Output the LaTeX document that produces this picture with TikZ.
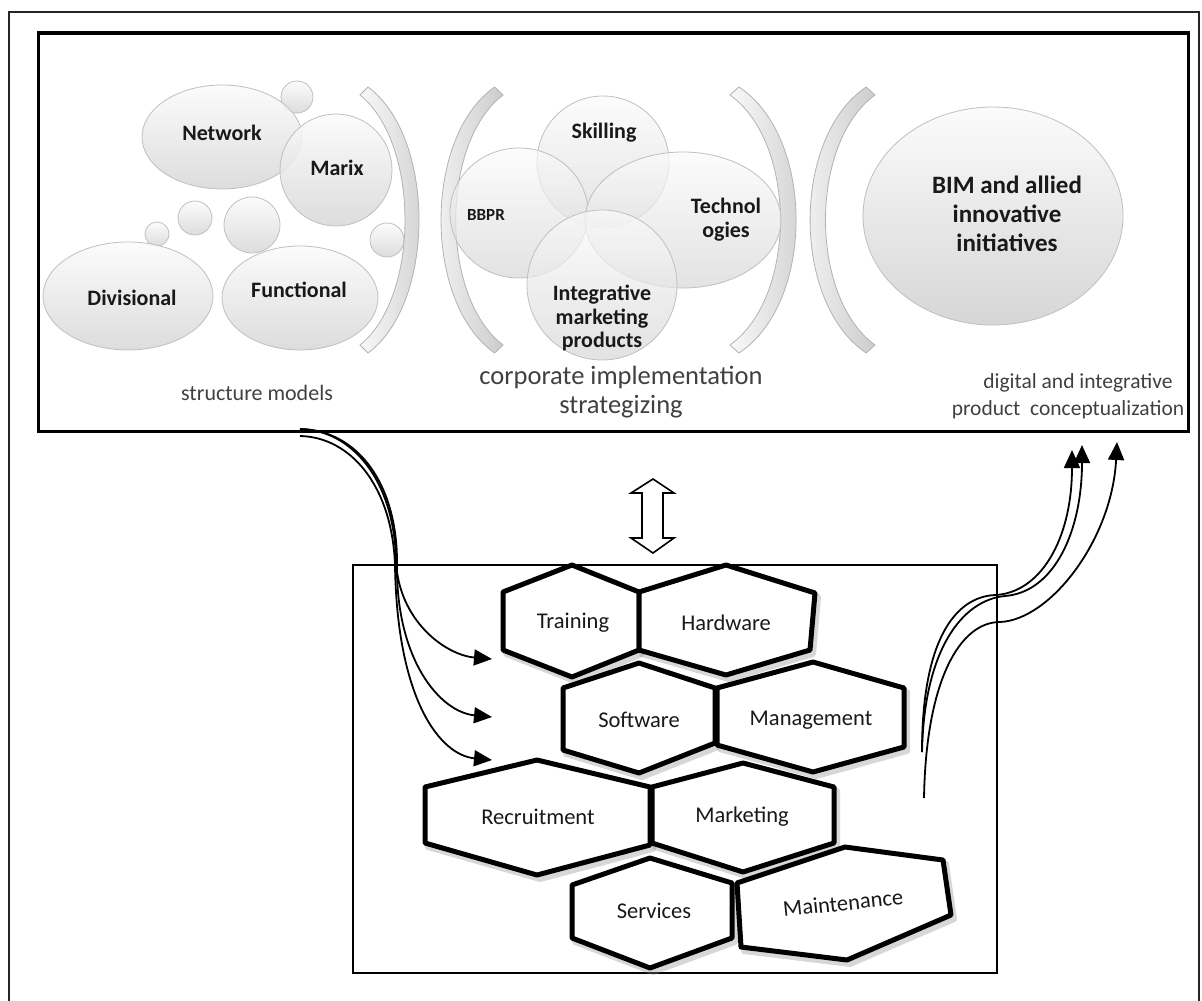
\documentclass[tikz,border=0pt]{standalone}
\usepackage{fontspec}
\setmainfont{Carlito}
\usetikzlibrary{arrows.meta}
\tikzset{
  bubble/.style={draw=gray!50, line width=0.8pt, top color=gray!3, middle color=gray!20, bottom color=gray!32, fill opacity=0.85},
  tbub/.style={bubble, fill opacity=0.7},
  blabel/.style={font=\fontsize{22}{24}\selectfont\bfseries, align=center, text=black!90},
  caption/.style={font=\fontsize{22}{27}\selectfont, text=black!75, align=center},
  brk/.style={draw=gray!60, line width=0.8pt, left color=gray!5, right color=gray!40},
  hexa/.style={draw=black, line width=5pt, line join=round, fill=white},
  hexshadow/.style={draw=black!45, line width=6pt, line join=round, opacity=0.35},
  hlabel/.style={font=\fontsize{22.5}{24}\selectfont, text=black!90},
  conn/.style={line width=1.8pt, -{Triangle[length=18pt,width=16pt]}},
  brack/.pic={\path[brk] (8,0) .. controls (76,50) and (76,216) .. (8,266) -- (0,258) .. controls (60,210) and (60,56) .. (0,8) -- cycle;}
}
\newcommand{\hexpoly}[1]{\draw[hexshadow, shift={(3,4)}] #1; \draw[hexa] #1;}
\begin{document}
\begin{tikzpicture}[x=1pt,y=-1pt]
\useasboundingbox (0,0) rectangle (1202,1001);
% outer frame
\draw[line width=2.2pt, draw=black!85] (9,1003) -- (9,12) -- (1199,12) -- (1199,1003);
% top box
\draw[line width=3.2pt] (38.5,33) rectangle (1188.5,431.5);
% lower box
\draw[line width=2pt] (353,565) rectangle (997,973);

% ---------- structure models ----------
\path[bubble] (297,97) circle [radius=16];
\path[bubble] (222,137) ellipse [x radius=80, y radius=52];
\path[bubble] (336,170) circle [radius=56];
\path[bubble] (157,234) circle [radius=12];
\path[bubble] (195,218) circle [radius=17];
\path[bubble] (252,225) circle [radius=28];
\path[bubble] (387,240) circle [radius=17];
\path[bubble] (128,296) ellipse [x radius=85, y radius=54];
\path[bubble] (300,298) ellipse [x radius=78, y radius=52];
\node[blabel] (network) at (222,133) {Network};
\node[blabel] (marix) at (337,168) {Marix};
\node[blabel] (divisional) at (132,298) {Divisional};
\node[blabel] (functional) at (299,290) {Functional};
\node[caption] (cap1) at (257,393) {structure models};

% brackets
\pic at (360,87) {brack};
\pic[xscale=-1.05] at (503,87) {brack};
\pic[xscale=1.12] at (730,87) {brack};
\pic[xscale=-1.1] at (875,87) {brack};

% ---------- corporate implementation ----------
\path[tbub] (603,162) circle [radius=66];
\path[tbub] (519,213) ellipse [x radius=69, y radius=65];
\path[tbub] (683,220) ellipse [x radius=98, y radius=68];
\path[tbub] (602,285) circle [radius=75];
\node[blabel] (skilling) at (604,133) {Skilling};
\node[blabel, font=\fontsize{17}{20}\selectfont\bfseries] (bbpr) at (486,215) {BBPR};
\node[blabel, font=\fontsize{22}{24}\selectfont\bfseries] (techno) at (726,220) {Technol\\ogies};
\node[blabel, font=\fontsize{22}{23.5}\selectfont\bfseries] (integ) at (602,318) {Integrative\\marketing\\products};
\node[caption, font=\fontsize{26.5}{29}\selectfont] (cap2) at (621,392) {corporate implementation\\strategizing};

% ---------- digital ----------
\path[bubble, fill opacity=1] (993,216) ellipse [x radius=130, y radius=109];
\node[blabel, font=\fontsize{25}{29}\selectfont\bfseries] (bim) at (1007,214) {BIM and allied\\innovative\\initiatives};
\node[caption, font=\fontsize{21.5}{27}\selectfont] (cap3a) at (1078,383) {digital and integrative};
\node[caption, font=\fontsize{21.5}{27}\selectfont] (cap3b) at (1068,410) {product\ \ conceptualization};

% ---------- double arrow ----------
\draw[line width=1.6pt, fill=white, line join=miter] (653,479) -- (674,493) -- (663,493) -- (663,538) -- (674,538) -- (653,553) -- (631,538) -- (642,538) -- (642,493) -- (631,493) -- cycle;

% ---------- hexagons ----------
\hexpoly{(572,565) -- (639,592) -- (639,650) -- (572,677) -- (503,650) -- (503,592) -- cycle}
\hexpoly{(726,565) -- (815,593) -- (810,650) -- (726,675) -- (639,650) -- (639,592) -- cycle}
\hexpoly{(639,663) -- (715,688) -- (715,743) -- (639,773) -- (563,750) -- (563,688) -- cycle}
\hexpoly{(813,662) -- (904,688) -- (904,747) -- (813,772) -- (717,745) -- (717,688) -- cycle}
\hexpoly{(537,760) -- (650,787) -- (650,845) -- (537,875) -- (425,843) -- (425,787) -- cycle}
\hexpoly{(743,763) -- (834,787) -- (834,843) -- (743,872) -- (652,843) -- (652,787) -- cycle}
\hexpoly{(650,858) -- (732,883) -- (732,938) -- (650,968) -- (572,938) -- (572,885) -- cycle}
\hexpoly{(737,883) -- (845,847) -- (943,860) -- (951,915) -- (847,960) -- (741,947) -- cycle}
\node[hlabel] (training) at (573,623) {Training};
\node[hlabel] (hardware) at (726,623) {Hardware};
\node[hlabel] (software) at (639,720) {Software};
\node[hlabel] (management) at (811,720) {Management};
\node[hlabel] (recruitment) at (538,817) {Recruitment};
\node[hlabel] (marketing) at (742,817) {Marketing};
\node[hlabel] (services) at (654,911) {Services};
\node[hlabel, rotate=6] (maintenance) at (843,903) {Maintenance};

% ---------- connectors ----------
\coordinate (s1) at (300,429);
\coordinate (s2) at (300,436);
\coordinate (t1) at (492,659);
\coordinate (t2) at (492,717);
\coordinate (t3) at (492,760);
\draw[conn] (s1) .. controls (352,430) and (394,480) .. (396,560) .. controls (398,620) and (445,655) .. (t1);
\draw[conn] (s1) .. controls (358,430) and (398,485) .. (397,565) .. controls (396,660) and (440,712) .. (t2);
\draw[conn] (s2) .. controls (350,437) and (392,485) .. (395,565) .. controls (397,700) and (440,755) .. (t3);

\coordinate (r1) at (922,752);
\coordinate (r2) at (924,798);
\coordinate (u1) at (1072,450);
\coordinate (u2) at (1082,445);
\coordinate (u3) at (1117,442);
\draw[conn] (r1) .. controls (922,640) and (955,597) .. (995,595) .. controls (1040,593) and (1072,540) .. (u1);
\draw[conn] (r1) .. controls (924,650) and (962,600) .. (1005,596) .. controls (1055,592) and (1082,530) .. (u2);
\draw[conn] (r2) .. controls (926,680) and (960,622) .. (1000,622) .. controls (1050,620) and (1112,540) .. (u3);
\end{tikzpicture}
\end{document}
